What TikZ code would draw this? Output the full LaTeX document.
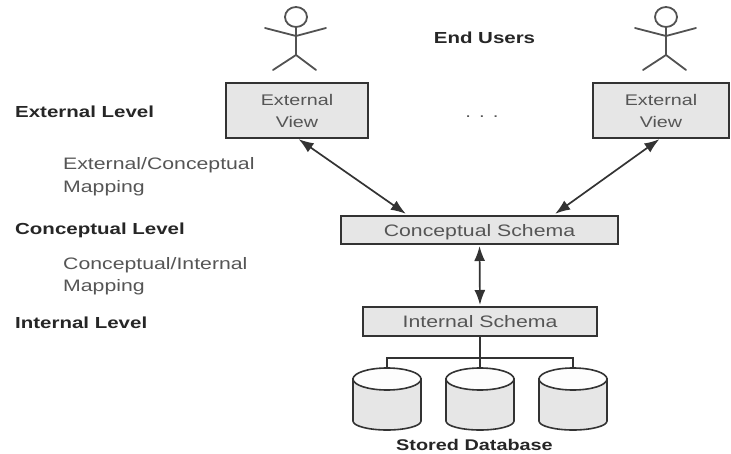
\documentclass[tikz,border=0pt]{standalone}
\usepackage{fontspec}
\setmainfont[FakeStretch=1.28]{Liberation Sans}
\usetikzlibrary{arrows.meta,calc}
\definecolor{boxfill}{HTML}{E6E6E6}
\definecolor{linecol}{HTML}{333333}
\definecolor{boxtext}{HTML}{555555}
\tikzset{
  x=1pt,y=-1pt,
  levelbox/.style={draw=linecol,line width=1.7pt,fill=boxfill,rectangle,inner sep=0pt,outer sep=0pt,
    text=boxtext,align=center},
  viewfont/.style={font=\fontsize{15.4}{22}\selectfont},
  schemafont/.style={font=\fontsize{16.6}{22}\selectfont},
  levellabel/.style={anchor=west,inner sep=0pt,yshift=-1pt,font=\fontsize{16}{20}\selectfont\bfseries,text=black!85},
  maplabel/.style={anchor=west,inner sep=0pt,yshift=-1.5pt,font=\fontsize{16.6}{20}\selectfont,text=boxtext},
  twoway/.style={draw=linecol,line width=1.7pt,{Latex[length=15pt,width=11pt]}-{Latex[length=15pt,width=11pt]},shorten <=2pt,shorten >=2pt},
  busline/.style={draw=linecol,line width=1.5pt},
  stick/.style={draw=linecol!85,line width=1.8pt,line cap=round},
  dbanchor/.style={rectangle,inner sep=0pt,outer sep=0pt,minimum width=68pt,minimum height=62pt},
  dbbody/.style={draw=linecol,line width=1.6pt,fill=boxfill},
  dbtop/.style={draw=linecol,line width=1.6pt,fill=white!92!boxfill},
}
\newcommand{\lowered}[1]{\raisebox{-2pt}[0.75em][0.25em]{#1}}
\newcommand{\stickman}[1]{%
  \begin{scope}[shift={(#1,0)}]
    \draw[stick] (296,17) ellipse [x radius=11,y radius=10];
    \draw[stick] (296,27) -- (296,55);
    \draw[stick] (265,28) -- (296,36) -- (326,28);
    \draw[stick] (273,70) -- (296,55) -- (316,70);
  \end{scope}}
\newcommand{\dbdrum}[1]{%
  \draw[dbbody] (#1.north west)++(0,11) -- ($(#1.south west)+(0,-9)$)
     arc [start angle=180,end angle=360,x radius=34,y radius=-9]
     -- ($(#1.north east)+(0,11)$) -- cycle;
  \draw[dbtop] ($(#1.north)+(0,11)$) ellipse [x radius=34,y radius=11];}
\begin{document}
\begin{tikzpicture}
\useasboundingbox (0,0) rectangle (731,454);
\stickman{0}
\stickman{370}
\node[levelbox,viewfont,minimum width=142pt,minimum height=55pt] (ev1) at (297,110.5) {\lowered{External}\\\lowered{View}};
\node[levelbox,viewfont,minimum width=136pt,minimum height=55pt] (ev2) at (661,110.5) {\lowered{External}\\\lowered{View}};
\node[levelbox,schemafont,minimum width=277pt,minimum height=28pt] (cs) at (479.5,230) {\lowered{Conceptual Schema}};
\node[levelbox,schemafont,minimum width=234pt,minimum height=29pt] (is) at (480,321.5) {\lowered{Internal Schema}};
\node[dbanchor] (db1) at (387,399) {};
\node[dbanchor] (db2) at (480,399) {};
\node[dbanchor] (db3) at (573,399) {};
\coordinate (bus) at (480,358);
\draw[twoway] (ev1.south) -- ($(cs.north)+(-72,-1)$);
\draw[twoway] (ev2.south) -- ($(cs.north)+(74,-1)$);
\draw[twoway] (cs.south) -- (is.north);
\draw[busline] (is.south) -- (bus);
\draw[busline] (db1.north) |- (bus) -| (db3.north);
\draw[busline] (bus) -- (db2.north);
\dbdrum{db1}
\dbdrum{db2}
\dbdrum{db3}
\node[levellabel] (t1) at (15,111) {External Level};
\node[levellabel] (t2) at (15,229) {Conceptual Level};
\node[levellabel] (t3) at (15,322) {Internal Level};
\node[maplabel] (m1) at (63,164) {External/Conceptual};
\node[maplabel] (m2) at (63,187) {Mapping};
\node[maplabel] (m3) at (63,264) {Conceptual/Internal};
\node[maplabel] (m4) at (63,286) {Mapping};
\node[levellabel,anchor=center] (eu) at (484.5,37) {End Users};
\node[levellabel,anchor=center,font=\fontsize{15.5}{20}\selectfont\bfseries] (sd) at (474.5,444) {Stored Database};
\node[inner sep=0pt,font=\fontsize{16}{20}\selectfont,text=boxtext] (dots) at (482,117) {.\,\,\,.\,\,\,.};
\end{tikzpicture}
\end{document}
